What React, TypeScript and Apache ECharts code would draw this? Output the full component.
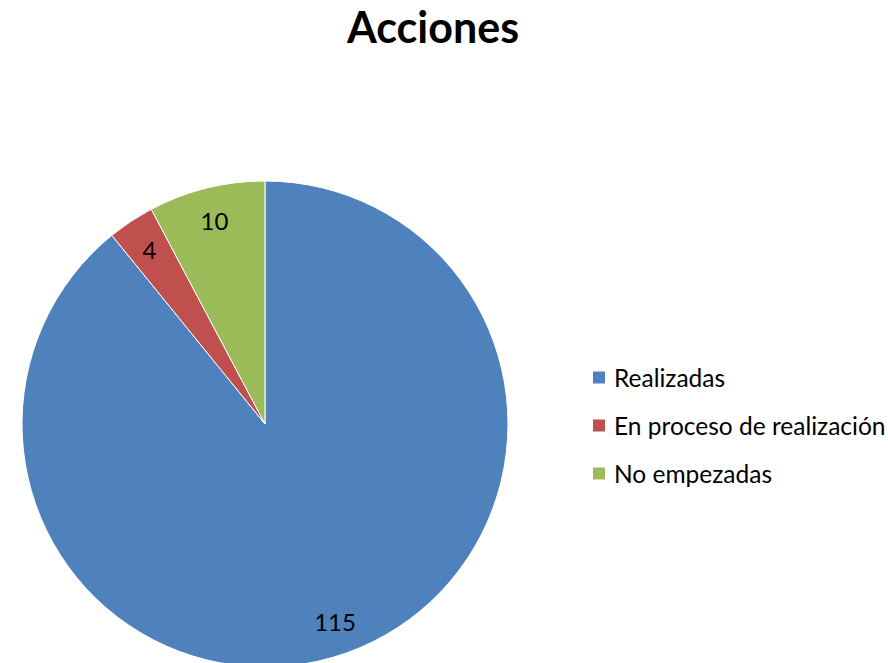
import React, { useEffect, useRef } from "react";
import * as echarts from "echarts";

const categories = ["Realizadas", "En proceso de realización", "No empezadas"];
const values = [115, 4, 10];
const colors = ["#4F81BD", "#C0504D", "#9BBB59"];
const titleText = "Acciones";

export default function App() {
  const ref = useRef<HTMLDivElement>(null);
  useEffect(() => {
    document.body.style.margin = "0";
    const chart = echarts.init(ref.current!, null, { renderer: "svg" });
    const data = categories.map((name, i) => ({ name, value: values[i] }));
    chart.setOption({
      animation: false,
      backgroundColor: "#ffffff",
      color: colors,
      title: {
        text: titleText,
        left: 433,
        textAlign: "center",
        top: 5,
        padding: 0,
        textStyle: { fontFamily: "Lato", fontWeight: "bold", fontSize: 43, color: "#000" },
      },
      legend: {
        data: categories,
        orient: "vertical",
        left: 591,
        top: 365,
        padding: 0,
        itemWidth: 14,
        itemHeight: 14,
        itemGap: 23,
        icon: "rect",
        textStyle: { fontFamily: "Lato", fontSize: 24.5, color: "#000", lineHeight: 24, padding: [0, 0, 0, 3] },
      },
      series: [
        {
          type: "pie",
          center: [265, 424],
          radius: [0, 243],
          startAngle: 90,
          clockwise: true,
          data,
          itemStyle: { borderColor: "#ffffff", borderWidth: 1 },
          label: { show: false },
          labelLine: { show: false },
          emphasis: { disabled: true },
        },
        {
          type: "pie",
          center: [265, 424],
          radius: [170, 243],
          startAngle: 90,
          clockwise: true,
          data,
          silent: true,
          itemStyle: { color: "transparent" },
          label: {
            show: true,
            position: "inside",
            formatter: "{c}",
            fontFamily: "Lato",
            fontSize: 24,
            color: "#000",
          },
          labelLine: { show: false },
          emphasis: { disabled: true },
        },
      ],
    });
    return () => chart.dispose();
  }, []);
  return <div ref={ref} style={{ position: "absolute", left: 0, top: 0, width: 888, height: 663 }} />;
}
